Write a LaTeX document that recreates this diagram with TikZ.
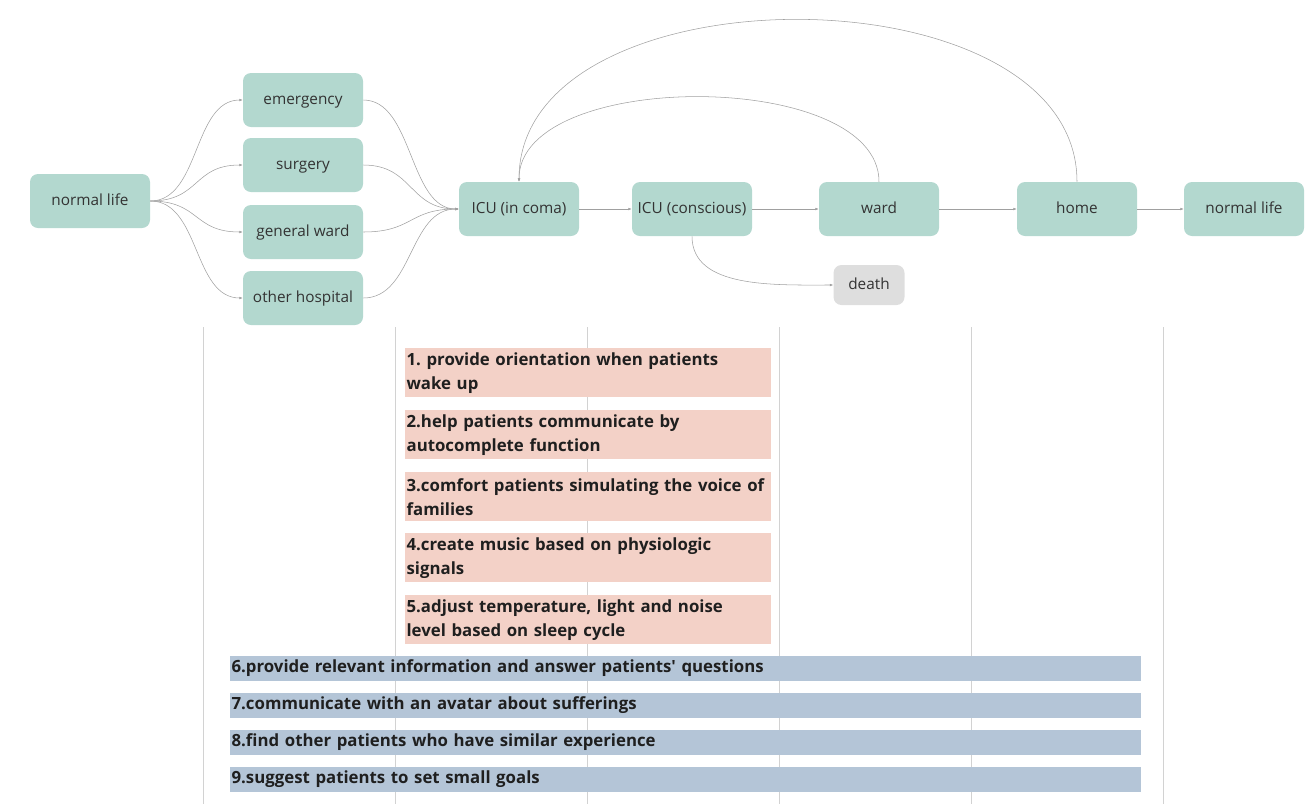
\documentclass[tikz,border=0pt]{standalone}
\usepackage{fontspec}
\setmainfont{Open Sans}
\usetikzlibrary{arrows.meta}
\definecolor{stage}{HTML}{B3D8CF}
\definecolor{endstage}{HTML}{DEDEDE}
\definecolor{icuidea}{HTML}{F3D1C7}
\definecolor{allidea}{HTML}{B4C5D7}
\definecolor{gridline}{HTML}{D2D2D2}
\definecolor{flow}{HTML}{A0A0A0}
\definecolor{ink}{HTML}{333333}
\tikzset{
  x=0.75pt, y=-0.75pt,
  stagebox/.style={fill=stage, rounded corners=6pt, minimum width=90pt,
    minimum height=40.5pt, inner sep=0pt, text=ink, text height=8.5pt, text depth=2.5pt,
    font=\fontsize{11.5}{13}\selectfont},
  deathbox/.style={stagebox, fill=endstage, minimum width=53.25pt, minimum height=30pt},
  flowline/.style={draw=flow, line width=0.4pt, -{Latex[length=2.5pt,width=2pt]}},
  ideabox/.style={fill=icuidea, anchor=north west, text width=272.5pt, inner xsep=1pt,
    inner ysep=0pt, minimum height=36.75pt, align=left, text=black!88,
    font=\bfseries\frenchspacing\fontsize{12.6}{18}\selectfont},
  widebox/.style={fill=allidea, anchor=north west, text width=681.25pt, inner xsep=1pt,
    inner ysep=0pt, minimum height=18.4pt, align=left, text=black!88,
    font=\bfseries\frenchspacing\fontsize{12.6}{14}\selectfont},
  lane/.style={draw=gridline, line width=0.6pt}
}
\begin{document}
\begin{tikzpicture}
\useasboundingbox (0,0) rectangle (1316,804);

% phase separators
\foreach \lx in {203,395,587,779,971,1163}
  \draw[lane] (\lx,327) -- (\lx,804);

% patient journey
\node[stagebox] (nl1) at (90,201) {normal life};
\node[stagebox] (em) at (303,100) {emergency};
\node[stagebox] (su) at (303,165) {surgery};
\node[stagebox] (gw) at (303,232) {general ward};
\node[stagebox] (oh) at (303,298) {other hospital};
\node[stagebox] (coma) at (519,209) {ICU (in coma)};
\node[stagebox] (consc) at (692,209) {ICU (conscious)};
\node[stagebox] (ward) at (879,209) {ward};
\node[stagebox] (home) at (1077,209) {home};
\node[stagebox] (nl2) at (1244,209) {normal life};
\node[deathbox] (death) at (869,285) {death};

\foreach \n in {em,su,gw,oh}{
  \draw[flowline] (nl1.east) .. controls +(50,0) and +(-50,0) .. (\n.west);
  \draw[flowline] (\n.east) .. controls +(50,0) and +(-50,0) .. (coma.west);
}
\draw[flowline] (coma) -- (consc);
\draw[flowline] (consc) -- (ward);
\draw[flowline] (ward) -- (home);
\draw[flowline] (home) -- (nl2);
\draw[flowline] (consc.south) .. controls +(0,52) and +(-60,0) .. (death.west);
\draw[flowline] (ward.north) .. controls +(0,-113) and +(0,-113) .. (coma.north);
\draw[flowline] (home.north) .. controls +(0,-216) and +(0,-216) .. (coma.north);

% ideas for the ICU phase
\node[ideabox] (i1) at (405,348) {1. provide orientation when patients\\wake up};
\node[ideabox] (i2) at (405,410) {2.help patients communicate by\\autocomplete function};
\node[ideabox] (i3) at (405,472) {3.comfort patients simulating the voice of\\families};
\node[ideabox] (i4) at (405,533) {4.create music based on physiologic\\signals};
\node[ideabox] (i5) at (405,595) {5.adjust temperature, light and noise\\level based on sleep cycle};

% ideas across the whole journey
\node[widebox] (i6) at (230,656) {6.provide relevant information and answer patients\textquotesingle{} questions};
\node[widebox] (i7) at (230,693) {7.communicate with an avatar about sufferings};
\node[widebox] (i8) at (230,730) {8.find other patients who have similar experience};
\node[widebox] (i9) at (230,767) {9.suggest patients to set small goals};
\end{tikzpicture}
\end{document}
